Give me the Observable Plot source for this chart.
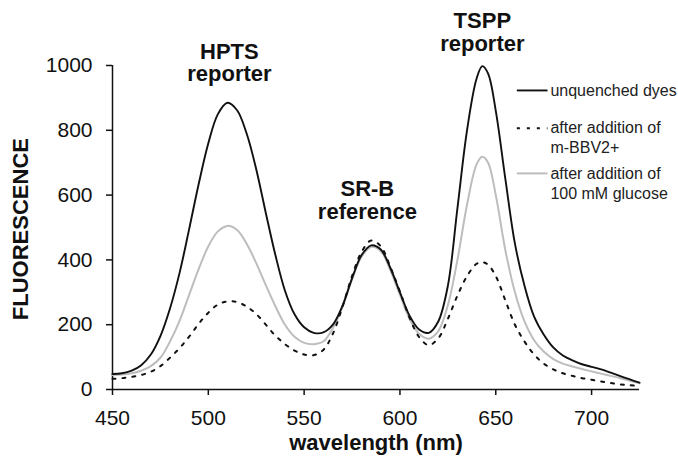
<!DOCTYPE html>
<html><head><meta charset="utf-8">
<script src="https://cdn.jsdelivr.net/npm/d3@7"></script>
<script src="https://cdn.jsdelivr.net/npm/@observablehq/plot@0.6"></script>
<style>
html,body{margin:0;padding:0;background:#fff;}
#chart{width:678px;height:461px;overflow:hidden;}
#chart svg{overflow:visible;}
</style></head><body><div id="chart"></div>
<script>
// wavelength (nm)
const wavelength = [450,455,460,465,470,475,480,485,490,495,500,505,510,515,520,525,530,535,540,545,550,555,560,565,570,575,580,585,590,595,600,605,610,615,620,625,630,635,640,643,646,650,655,660,665,670,675,680,685,690,695,700,705,710,715,720,725];
// unquenched dyes
const unquenched = [48,50,58,75,108,165,250,360,495,635,760,850,885,862,790,680,545,415,305,232,192,175,176,200,258,343,415,445,432,375,300,228,185,175,210,320,560,800,960,998,975,860,650,450,320,225,170,130,105,90,78,70,62,52,41,31,21];
// after addition of m-BBV2+
const afterBBV = [33,35,39,45,55,72,98,128,163,203,237,262,272,270,256,233,200,166,140,120,108,106,122,172,255,350,425,460,442,378,302,222,162,137,158,218,290,350,388,393,385,350,275,200,148,108,80,62,50,42,35,30,25,20,16,13,11];
// after addition of 100 mM glucose
const afterGlucose = [45,46,50,58,72,98,148,212,292,372,442,488,505,492,450,390,322,257,200,163,144,140,148,190,255,340,410,440,427,368,292,218,172,157,180,260,400,570,695,718,700,600,430,300,210,152,117,94,80,71,63,56,49,42,35,27,19];

const xTicks = [450,500,550,600,650,700];
const yTicks = [0,200,400,600,800,1000];
const xLabel = "wavelength (nm)";
const yLabel = "FLUORESCENCE";
const yLabelAt = [402, 495]; // wavelength, fluorescence

// peak annotations (text, wavelength, fluorescence)
const annoText = ["HPTS","reporter","SR-B","reference","TSPP","reporter"];
const annoX = [511,511,583,583,643,643];
const annoY = [1043,973,620,547,1136,1065];

// legend (in data units)
const legendText = ["unquenched dyes","after addition of","m-BBV2+","after addition of","100 mM glucose"];
const legendTextY = [923,806,747,667,605];
const legendTextX = 678.5;
const legendLineX = [661,677];
const legendLineY = [923,806,667];

const mk = arr => wavelength.map((w,i)=>({w, v: arr[i]}));
const sBlack = mk(unquenched), sDot = mk(afterBBV), sGray = mk(afterGlucose);
const annos = annoText.map((t,i)=>({t, x: annoX[i], y: annoY[i]}));
const legTexts = legendText.map((t,i)=>({t, y: legendTextY[i]}));
const legLines = legendLineY.map((y,i)=>({x1: legendLineX[0], x2: legendLineX[1], y, k: i}));
const styles = [
  {stroke:"#111", strokeWidth:1.9, dash:null},
  {stroke:"#111", strokeWidth:2, dash:"3,7"},
  {stroke:"#bdbdbd", strokeWidth:2, dash:null}
];

const chart = Plot.plot({
  width: 678, height: 461,
  marginLeft: 112, marginRight: 39, marginTop: 65, marginBottom: 72,
  x: {domain: [450,725]},
  y: {domain: [0,1000]},
  style: {fontFamily: "'Liberation Sans', Arial, Helvetica, sans-serif", background: "#fff", color: "#111"},
  marks: [
    Plot.axisX({ticks: xTicks, tickSize: 6, tickPadding: 15, fontSize: 21, label: null, tickFormat: d => String(d), strokeWidth: 1.5}),
    Plot.axisY({ticks: yTicks, tickSize: 6, tickPadding: 14, fontSize: 21, label: null, tickFormat: d => String(d), strokeWidth: 1.5}),
    Plot.ruleX([450], {y1: 0, y2: 1000, stroke: "#111", strokeWidth: 1.5}),
    Plot.ruleY([0], {x1: 450, x2: 725, stroke: "#111", strokeWidth: 1.5}),
    Plot.line(sGray, {x: "w", y: "v", curve: "catmull-rom", stroke: styles[2].stroke, strokeWidth: styles[2].strokeWidth}),
    Plot.line(sBlack, {x: "w", y: "v", curve: "catmull-rom", stroke: styles[0].stroke, strokeWidth: styles[0].strokeWidth}),
    Plot.line(sDot, {x: "w", y: "v", curve: "catmull-rom", stroke: styles[1].stroke, strokeWidth: styles[1].strokeWidth, strokeDasharray: styles[1].dash}),
    Plot.text(annos, {x: "x", y: "y", text: "t", fontSize: 22, fontWeight: "bold", fill: "#111"}),
    Plot.link(legLines.filter(d=>d.k===0), {x1: "x1", x2: "x2", y1: "y", y2: "y", stroke: styles[0].stroke, strokeWidth: styles[0].strokeWidth}),
    Plot.link(legLines.filter(d=>d.k===1), {x1: "x1", x2: "x2", y1: "y", y2: "y", stroke: styles[1].stroke, strokeWidth: styles[1].strokeWidth, strokeDasharray: styles[1].dash}),
    Plot.link(legLines.filter(d=>d.k===2), {x1: "x1", x2: "x2", y1: "y", y2: "y", stroke: styles[2].stroke, strokeWidth: styles[2].strokeWidth}),
    Plot.text(legTexts, {x: () => legendTextX, y: "y", text: "t", textAnchor: "start", fontSize: 16, fill: "#222"}),
    Plot.text([xLabel], {frameAnchor: "bottom", dy: 60, fontSize: 22, fontWeight: "bold", fill: "#111"}),
    Plot.text([yLabel], {x: () => yLabelAt[0], y: () => yLabelAt[1], rotate: -90, fontSize: 22, fontWeight: "bold", fill: "#111"})
  ]
});
document.getElementById("chart").appendChild(chart);
</script>
</body></html>
